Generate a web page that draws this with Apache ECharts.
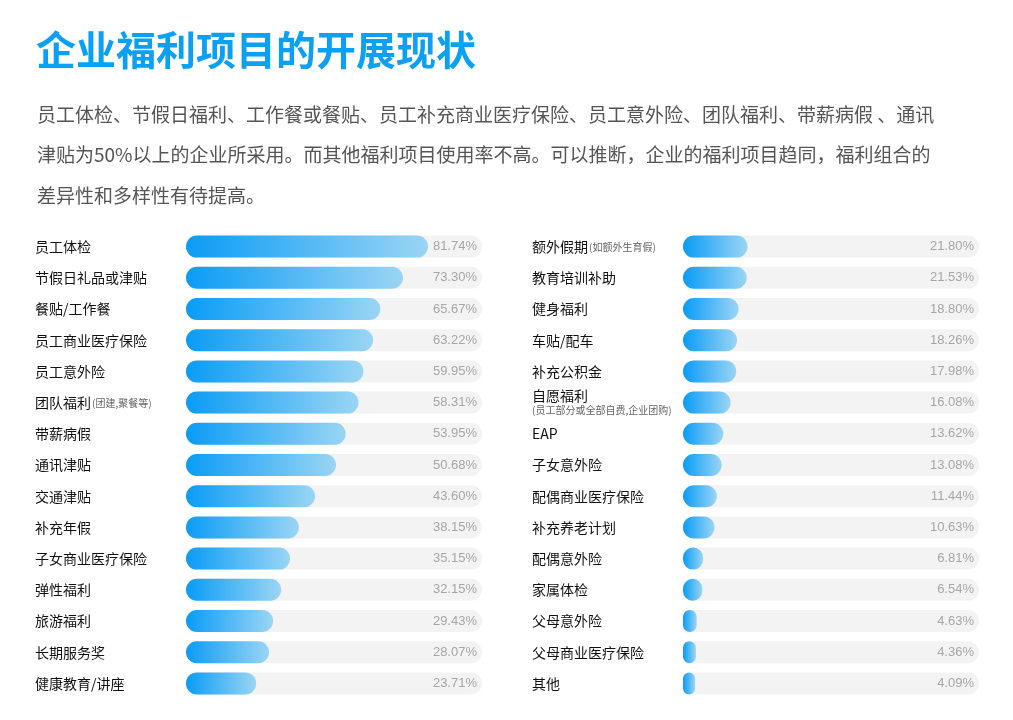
<!DOCTYPE html>
<html>
<head>
<meta charset="utf-8">
<script src="https://cdn.jsdelivr.net/npm/echarts@6/dist/echarts.min.js"></script>
<style>
html,body{margin:0;padding:0;background:#fff;}
#chart{width:1013px;height:720px;}
</style>
</head>
<body>
<div id="chart"></div>
<script>
const titleText = '企业福利项目的开展现状';
const paragraphLines = [
  '员工体检、节假日福利、工作餐或餐贴、员工补充商业医疗保险、员工意外险、团队福利、带薪病假 、通讯',
  '津贴为50%以上的企业所采用。而其他福利项目使用率不高。可以推断，企业的福利项目趋同，福利组合的',
  '差异性和多样性有待提高。'
];
const leftCats = ['员工体检','节假日礼品或津贴','餐贴/工作餐','员工商业医疗保险','员工意外险','团队福利','带薪病假','通讯津贴','交通津贴','补充年假','子女商业医疗保险','弹性福利','旅游福利','长期服务奖','健康教育/讲座'];
const leftVals = [81.74,73.30,65.67,63.22,59.95,58.31,53.95,50.68,43.60,38.15,35.15,32.15,29.43,28.07,23.71];
const rightCats = ['额外假期','教育培训补助','健身福利','车贴/配车','补充公积金','自愿福利','EAP','子女意外险','配偶商业医疗保险','补充养老计划','配偶意外险','家属体检','父母意外险','父母商业医疗保险','其他'];
const rightVals = [21.80,21.53,18.80,18.26,17.98,16.08,13.62,13.08,11.44,10.63,6.81,6.54,4.63,4.36,4.09];
const inlineNotes = {'团队福利':'(团建,聚餐等)','额外假期':'(如额外生育假)'};
const belowNotes = {'自愿福利':'(员工部分或全部自费,企业团购)'};

const FONT = '"Noto Sans CJK SC", "Noto Sans", sans-serif';
const chart = echarts.init(document.getElementById('chart'), null, {renderer:'canvas'});

function catFormatter(name){
  if (inlineNotes[name]) return name + '{s|' + inlineNotes[name] + '}';
  if (belowNotes[name]) return '{m|' + name + '}\n{b|' + belowNotes[name] + '}';
  return name;
}
const catLabel = {
  align:'left', margin:151, color:'#111111', fontSize:14, fontFamily:FONT,
  formatter: catFormatter,
  rich:{
    s:{fontSize:10, color:'#666', fontFamily:FONT, padding:[2,0,0,1]},
    m:{fontSize:14, color:'#111111', fontFamily:FONT, lineHeight:16},
    b:{fontSize:10, color:'#666', fontFamily:FONT, lineHeight:13}
  }
};
const pctLabel = {inside:true, align:'right', margin:5, color:'#a6a6a6', fontSize:13, fontWeight:'normal', fontFamily:'"Liberation Sans", Arial, sans-serif'};
const fmt = v => v.toFixed(2) + '%';
const barColor = new echarts.graphic.LinearGradient(0,0,1,0,[
  {offset:0, color:'#0a9cf6'},
  {offset:1, color:'#9ad5f4'}
]);
const hidden = {show:false};

function xAx(i){ return {type:'value', gridIndex:i, min:0, max:100, show:false}; }
function yCat(i, cats){ return {type:'category', gridIndex:i, data:cats, inverse:true, axisLine:hidden, axisTick:hidden, splitLine:hidden, axisLabel:catLabel}; }
function yPct(i, vals){ return {type:'category', gridIndex:i, position:'right', data:vals.map(fmt), inverse:true, z:10, axisLine:hidden, axisTick:hidden, splitLine:hidden, axisLabel:pctLabel}; }
function ser(i, vals){
  return {type:'bar', xAxisIndex:i, yAxisIndex:i*2, data:vals, barWidth:22,
    showBackground:true, backgroundStyle:{color:'#f3f3f3', borderRadius:11},
    itemStyle:{color:barColor, borderRadius:11}, silent:true, animation:false};
}

chart.setOption({
  animation:false,
  grid:[
    {left:186, width:296, top:231, height:468},
    {left:683, width:296, top:231, height:468}
  ],
  xAxis:[xAx(0), xAx(1)],
  yAxis:[yCat(0,leftCats), yPct(0,leftVals), yCat(1,rightCats), yPct(1,rightVals)],
  series:[ser(0,leftVals), ser(1,rightVals)],
  graphic:[
    {type:'text', left:36, top:30, style:{text:titleText, fill:'#0aa0f4', font:'bold 40px ' + FONT}},
    ...paragraphLines.map((t,k)=>({type:'text', left:37, top:105 + k*40.5, style:{text:t, font:'19px ' + FONT, fill:'#555555'}}))
  ]
});
</script>
</body>
</html>
